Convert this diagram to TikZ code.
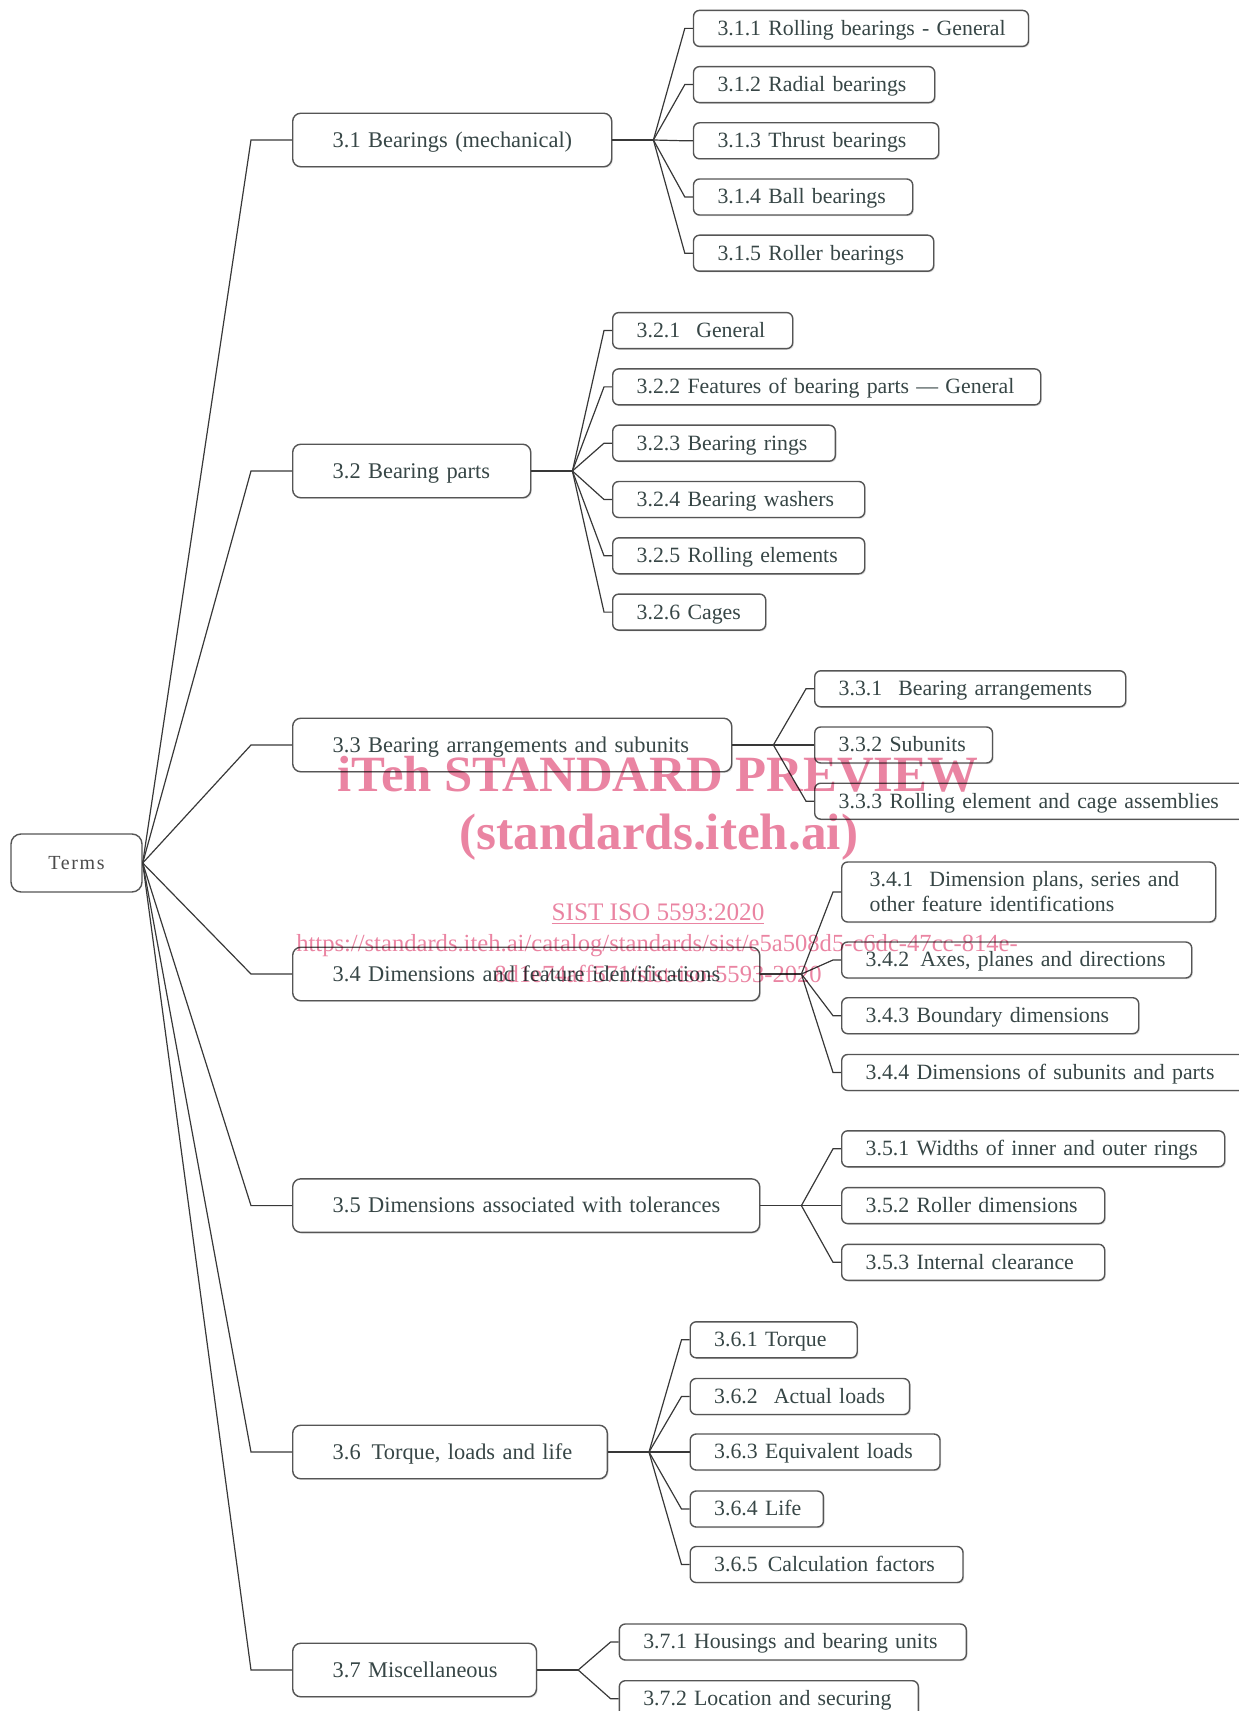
\documentclass[tikz,border=0pt]{standalone}
\usepackage{fontspec}
\setmainfont{Liberation Serif}
\usepackage{tikz}
\usetikzlibrary{shadows}

\definecolor{boxline}{RGB}{85,85,85}
\definecolor{termink}{RGB}{55,70,70}
\definecolor{wmpink}{RGB}{234,132,162}

\tikzset{
  terms/.style={draw=boxline, line width=0.7pt, rounded corners=5pt, fill=white,
    minimum width=65.5pt, minimum height=29pt, text=black!70,
    font=\fontsize{10}{12}\selectfont\addfontfeature{LetterSpace=8}},
  topic/.style={draw=boxline, line width=0.7pt, rounded corners=4pt, fill=white,
    anchor=west, minimum height=26.75pt, inner xsep=20pt, inner ysep=0pt,
    text width=#1-40pt, align=left, text=termink,
    text height=7.7pt, text depth=0.6pt,
    font=\fontsize{11.2}{13}\selectfont,
    execute at begin node=\hbox\bgroup, execute at end node=\egroup,
    drop shadow={shadow xshift=0.6pt, shadow yshift=-0.6pt, fill=black!25}},
  leafbox/.style={draw=boxline, line width=0.7pt, rounded corners=3pt, fill=white,
    anchor=west, minimum height=18pt, inner xsep=12pt, inner ysep=0pt,
    text width=#1-24pt, align=left, text=termink,
    font=\fontsize{10.9}{12.5}\selectfont,
    drop shadow={shadow xshift=0.6pt, shadow yshift=-0.6pt, fill=black!25}},
  leaf/.style={leafbox=#1, text height=7.5pt, text depth=0.6pt,
    execute at begin node=\hbox\bgroup, execute at end node=\egroup},
  link/.style={draw=black!78, line width=0.6pt},
  wmark/.style={text=wmpink, anchor=base, inner sep=0pt}
}

\begin{document}
\begin{tikzpicture}[x=0.5pt, y=-0.5pt]
  \useasboundingbox (0,0) rectangle (1238,1711);

  % root
  \node[terms] (root) at (76.5,863) {Terms};

  % first level
  \node[topic=159.5pt] (t1) at (292,140)    {3.1 Bearings (mechanical)};
  \node[topic=119pt]   (t2) at (292,471)    {3.2 Bearing parts};
  \node[topic=219.5pt] (t3) at (292,745)    {3.3 Bearing arrangements and subunits};
  \node[topic=233.5pt] (t4) at (292,974)    {3.4 Dimensions and feature identifications};
  \node[topic=233.5pt] (t5) at (292,1205.6) {3.5 Dimensions associated with tolerances};
  \node[topic=157.3pt] (t6) at (292,1452)   {3.6\hspace{5.5pt}Torque, loads and life};
  \node[topic=121.9pt] (t7) at (292,1670)   {3.7 Miscellaneous};

  % 3.1
  \node[leaf=167.5pt] (c11) at (692.8,28.4)  {3.1.1 Rolling bearings - General};
  \node[leaf=120.6pt] (c12) at (692.8,84.6)  {3.1.2 Radial bearings};
  \node[leaf=122.6pt] (c13) at (692.8,140.8) {3.1.3 Thrust bearings};
  \node[leaf=109.6pt] (c14) at (692.8,197)   {3.1.4 Ball bearings};
  \node[leaf=120.1pt] (c15) at (692.8,253.2) {3.1.5 Roller bearings};

  % 3.2
  \node[leaf=90pt]    (c21) at (612,330.6) {3.2.1\hspace{8pt}General};
  \node[leaf=214pt]   (c22) at (612,386.9) {3.2.2 Features of bearing parts — General};
  \node[leaf=111.3pt] (c23) at (612,443.2) {3.2.3 Bearing rings};
  \node[leaf=126pt]   (c24) at (612,499.5) {3.2.4 Bearing washers};
  \node[leaf=126pt]   (c25) at (612,555.8) {3.2.5 Rolling elements};
  \node[leaf=76.5pt]  (c26) at (612,612.1) {3.2.6 Cages};

  % 3.3
  \node[leaf=155.5pt] (c31) at (814,688.8) {3.3.1\hspace{8pt}Bearing arrangements};
  \node[leaf=88.9pt]  (c32) at (814,745)   {3.3.2 Subunits};
  \node[leaf=220pt]   (c33) at (814,801.2) {3.3.3 Rolling element and cage assemblies};

  % 3.4
  \node[leafbox=187pt, minimum height=30pt, inner xsep=14pt, text width=159pt] (c41) at (841,892)
        {3.4.1\hspace{8pt}Dimension plans, series and\\other feature identifications};
  \node[leaf=175pt]   (c42) at (841,960)    {3.4.2\hspace{5.5pt}Axes, planes and directions};
  \node[leaf=148.5pt] (c43) at (841,1015.7) {3.4.3 Boundary dimensions};
  \node[leaf=205pt]   (c44) at (841,1072.5) {3.4.4 Dimensions of subunits and parts};

  % 3.5
  \node[leaf=191.5pt] (c51) at (841,1148.8) {3.5.1 Widths of inner and outer rings};
  \node[leaf=131.5pt] (c52) at (841,1205.6) {3.5.2 Roller dimensions};
  \node[leaf=131.5pt] (c53) at (841,1262.3) {3.5.3 Internal clearance};

  % 3.6
  \node[leaf=83.5pt]  (c61) at (689.5,1339.8) {3.6.1 Torque};
  \node[leaf=109.7pt] (c62) at (689.5,1396.5) {3.6.2\hspace{8pt}Actual loads};
  \node[leaf=124.9pt] (c63) at (689.5,1452)   {3.6.3 Equivalent loads};
  \node[leaf=66.6pt]  (c64) at (689.5,1509)   {3.6.4 Life};
  \node[leaf=136.4pt] (c65) at (689.5,1564.5) {3.6.5\hspace{5pt}Calculation factors};

  % 3.7
  \node[leaf=173.5pt] (c71) at (618.6,1642)   {3.7.1 Housings and bearing units};
  \node[leaf=149.5pt] (c72) at (618.6,1698.7) {3.7.2 Location and securing};

  % connectors
  \foreach \i in {1,...,7}
    \draw[link] (root.east) -- ([xshift=-20.5pt]t\i.west) -- (t\i.west);
  \foreach \p/\n in {1/5, 2/6, 3/3, 4/4, 5/3, 6/5, 7/2}{
    \coordinate (b\p) at ([xshift=20.5pt]t\p.east);
    \draw[link] (t\p.east) -- (b\p);
    \foreach \k in {1,...,\n}
      \draw[link] (b\p) -- ([xshift=-4pt]c\p\k.west) -- (c\p\k.west);
  }

  % watermark
  \begin{scope}[blend mode=multiply]
    \node[wmark, font=\fontsize{25.4}{28}\selectfont\bfseries] (wm1) at (658,791) {iTeh STANDARD PREVIEW};
    \node[wmark, font=\fontsize{25.6}{28}\selectfont\bfseries] (wm2) at (659,849) {(standards.iteh.ai)};
    \node[wmark, font=\fontsize{12.6}{14}\selectfont] (wm3) at (658,920) {\underline{SIST ISO 5593:2020}};
    \node[wmark, font=\fontsize{12.3}{14}\selectfont] (wm4) at (657,951) {https://standards.iteh.ai/catalog/standards/sist/e5a508d5-c6dc-47cc-814e-};
    \node[wmark, font=\fontsize{12.3}{14}\selectfont] (wm5) at (658,982) {8d1e74aff571/sist-iso-5593-2020};
  \end{scope}
\end{tikzpicture}
\end{document}
